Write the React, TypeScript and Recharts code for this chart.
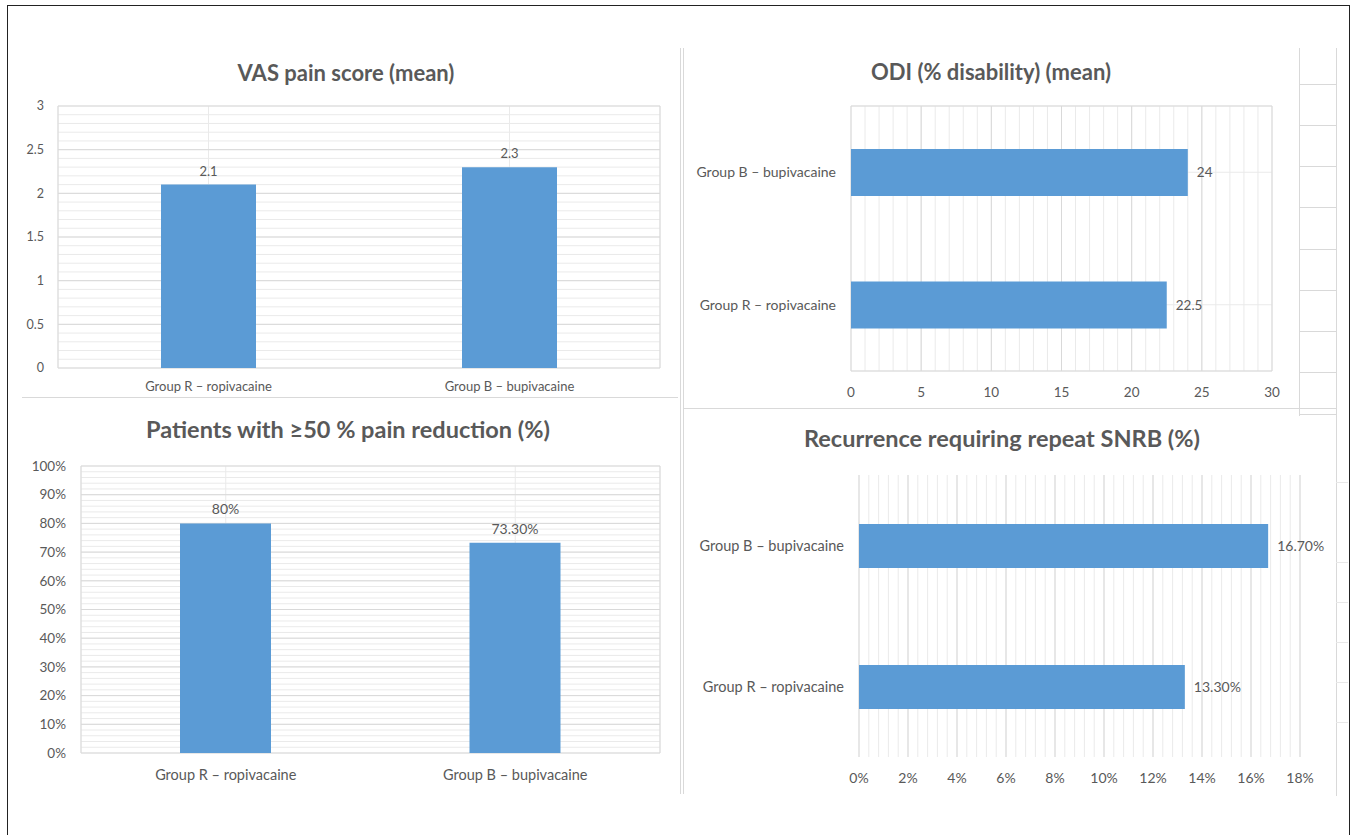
import {
  BarChart,
  Bar,
  XAxis,
  YAxis,
  CartesianGrid,
  ReferenceLine,
  LabelList,
} from "recharts";

const groups = ["Group R – ropivacaine", "Group B – bupivacaine"];

const vasMean = [2.1, 2.3];
const vasLabels = ["2.1", "2.3"];
const vasTicks = [0, 0.5, 1, 1.5, 2, 2.5, 3];

const odiMean = [22.5, 24];
const odiLabels = ["22.5", "24"];
const odiTicks = [0, 5, 10, 15, 20, 25, 30];

const reductionPct = [80, 73.3];
const reductionLabels = ["80%", "73.30%"];
const reductionTicks = [0, 10, 20, 30, 40, 50, 60, 70, 80, 90, 100];

const recurrencePct = [13.3, 16.7];
const recurrenceLabels = ["13.30%", "16.70%"];
const recurrenceTicks = [0, 2, 4, 6, 8, 10, 12, 14, 16, 18];

const frameTicks = [0, 1, 2];

// minor gridlines, excel style: 5 per major step
const minorOf = (ticks: number[]) => {
  const step = (ticks[1] - ticks[0]) / 5;
  const n = Math.round((ticks[ticks.length - 1] - ticks[0]) / step);
  return Array.from({ length: n + 1 }, (_, i) => +(ticks[0] + i * step).toFixed(4));
};

const BLUE = "#5B9BD5";
const TEXT = "#595959";
const MAJOR = "#D9D9D9";
const MINOR = "#EAEAEA";
const FONT = "Lato, 'Open Sans', sans-serif";

const rows = (values: number[], labels: string[]) =>
  groups.map((name, i) => ({ name, value: values[i], label: labels[i] }));

const Title = ({ text, cx, cy, size }: { text: string; cx: number; cy: number; size: number }) => (
  <div
    style={{
      position: "absolute",
      left: cx - 300,
      top: cy - 15,
      width: 600,
      height: 30,
      lineHeight: "30px",
      textAlign: "center",
      fontFamily: FONT,
      fontWeight: 700,
      fontSize: size,
      color: TEXT,
    }}
  >
    {text}
  </div>
);

const Line = ({ x, y, w, h, color = MAJOR }: { x: number; y: number; w: number; h: number; color?: string }) => (
  <div style={{ position: "absolute", left: x, top: y, width: w, height: h, background: color }} />
);

function ColumnPanel({
  data,
  ticks,
  fmt,
  left,
  top,
  width,
  height,
  margin,
  yWidth,
  yMargin,
  xMargin,
  barSize,
  fontSize,
  catSize,
  labelSize,
}: any) {
  return (
    <div style={{ position: "absolute", left, top }}>
      <BarChart width={width} height={height} data={data} margin={margin}>
        <CartesianGrid stroke={MINOR} horizontalValues={minorOf(ticks)} vertical={true} />
        <CartesianGrid stroke={MAJOR} horizontalValues={ticks} vertical={false} />
        <XAxis
          dataKey="name"
          axisLine={false}
          tickLine={false}
          tickMargin={xMargin}
          height={30}
          tick={{ fill: TEXT, fontSize: catSize, fontFamily: FONT }}
        />
        <XAxis xAxisId="frame" type="number" domain={[0, 2]} allowDataOverflow hide />
        <YAxis
          type="number"
          domain={[ticks[0], ticks[ticks.length - 1]]}
          ticks={ticks}
          tickFormatter={fmt}
          axisLine={false}
          tickLine={false}
          tickMargin={yMargin}
          width={yWidth}
          interval={0}
          tick={{ fill: TEXT, fontSize, fontFamily: FONT }}
        />
        {frameTicks.map((v) => (
          <ReferenceLine key={v} xAxisId="frame" x={v} stroke={MAJOR} />
        ))}
        <Bar dataKey="value" fill={BLUE} barSize={barSize} isAnimationActive={false}>
          <LabelList
            dataKey="label"
            position="top"
            offset={9}
            fill={TEXT}
            fontSize={labelSize}
            fontFamily={FONT}
          />
        </Bar>
      </BarChart>
    </div>
  );
}

function RowPanel({
  data,
  ticks,
  fmt,
  left,
  top,
  width,
  height,
  margin,
  yWidth,
  xMargin,
  barSize,
  fontSize,
  catSize,
  labelSize,
  framed,
}: any) {
  return (
    <div style={{ position: "absolute", left, top }}>
      <BarChart width={width} height={height} data={data} layout="vertical" margin={margin}>
        <CartesianGrid stroke={MINOR} verticalValues={minorOf(ticks)} horizontal={framed} />
        <CartesianGrid stroke={MAJOR} verticalValues={ticks} horizontal={false} />
        <XAxis
          type="number"
          domain={[ticks[0], ticks[ticks.length - 1]]}
          ticks={ticks}
          tickFormatter={fmt}
          axisLine={false}
          tickLine={false}
          tickMargin={xMargin}
          height={30}
          interval={0}
          tick={{ fill: TEXT, fontSize, fontFamily: FONT }}
        />
        <YAxis
          type="category"
          dataKey="name"
          reversed
          axisLine={false}
          tickLine={false}
          tickMargin={9}
          width={yWidth}
          tick={{ fill: TEXT, fontSize: catSize, fontFamily: FONT }}
        />
        <YAxis yAxisId="frame" type="number" domain={[0, 2]} allowDataOverflow hide />
        {framed &&
          frameTicks.map((v) => (
            <ReferenceLine key={v} yAxisId="frame" y={v} stroke={MAJOR} />
          ))}
        <Bar dataKey="value" fill={BLUE} barSize={barSize} isAnimationActive={false}>
          <LabelList
            dataKey="label"
            position="right"
            offset={9}
            fill={TEXT}
            fontSize={labelSize}
            fontFamily={FONT}
          />
        </Bar>
      </BarChart>
    </div>
  );
}

const pct = (v: number) => `${v}%`;

export default function App() {
  return (
    <div
      style={{
        position: "absolute",
        left: 0,
        top: 0,
        width: 1354,
        height: 835,
        background: "#fff",
        overflow: "hidden",
      }}
    >
      {/* sheet cell remnants and panel borders */}
      <Line x={22} y={397} w={656} h={1} />
      <Line x={680} y={48} w={1} h={746} />
      <Line x={683} y={48} w={1} h={746} />
      <Line x={683} y={408} w={653} h={1} />
      <Line x={1299} y={48} w={1} h={368} />
      <Line x={1336} y={48} w={1} h={748} />
      {[84, 125, 166, 207, 249, 290, 331, 372, 414].map((y) => (
        <Line key={y} x={1299} y={y} w={37} h={1} />
      ))}
      {[482, 562, 602, 642, 682, 722].map((y) => (
        <Line key={y} x={1336} y={y} w={12} h={1} color="#E8E8E8" />
      ))}

      <Title text="VAS pain score (mean)" cx={346} cy={73} size={22} />
      <ColumnPanel
        data={rows(vasMean, vasLabels)}
        ticks={vasTicks}
        fmt={(v: number) => `${v}`}
        left={0}
        top={40}
        width={680}
        height={370}
        margin={{ top: 66, right: 20, bottom: 12, left: 18 }}
        yWidth={40}
        yMargin={8}
        xMargin={8}
        barSize={95}
        fontSize={12.5}
        catSize={13}
        labelSize={13}
      />

      <Title text="ODI (% disability) (mean)" cx={991} cy={72} size={22} />
      <RowPanel
        data={rows(odiMean, odiLabels)}
        ticks={odiTicks}
        fmt={(v: number) => `${v}`}
        left={680}
        top={40}
        width={674}
        height={380}
        margin={{ top: 66, right: 82, bottom: 19, left: 11 }}
        yWidth={160}
        xMargin={10}
        barSize={47}
        fontSize={13.5}
        catSize={14}
        labelSize={13.5}
        framed={true}
      />

      <Title text="Patients with ≥50 % pain reduction (%)" cx={348} cy={429} size={23.5} />
      <ColumnPanel
        data={rows(reductionPct, reductionLabels)}
        ticks={reductionTicks}
        fmt={pct}
        left={0}
        top={395}
        width={680}
        height={400}
        margin={{ top: 71, right: 20, bottom: 12, left: 31 }}
        yWidth={50}
        yMargin={9}
        xMargin={11}
        barSize={91}
        fontSize={13.5}
        catSize={14.5}
        labelSize={14}
      />

      <Title text="Recurrence requiring repeat SNRB (%)" cx={1002} cy={438} size={23.5} />
      <RowPanel
        data={rows(recurrencePct, recurrenceLabels)}
        ticks={recurrenceTicks}
        fmt={pct}
        left={680}
        top={408}
        width={674}
        height={390}
        margin={{ top: 67, right: 54, bottom: 11, left: 11 }}
        yWidth={168}
        xMargin={10}
        barSize={44}
        fontSize={14}
        catSize={14.5}
        labelSize={14}
        framed={false}
      />

      {/* outer frame, open at the bottom */}
      <div
        style={{
          position: "absolute",
          left: 7,
          top: 5,
          width: 1343,
          height: 840,
          border: "1.5px solid #222",
          boxSizing: "border-box",
        }}
      />
    </div>
  );
}
